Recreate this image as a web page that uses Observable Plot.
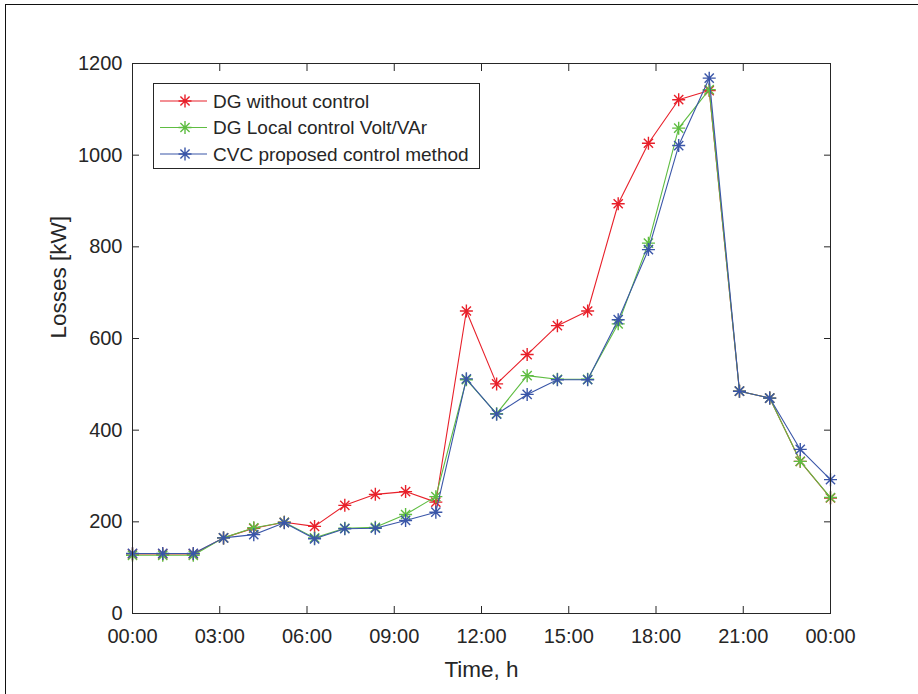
<!DOCTYPE html>
<html>
<head>
<meta charset="utf-8">
<script src="https://cdn.jsdelivr.net/npm/d3@7"></script>
<script src="https://cdn.jsdelivr.net/npm/@observablehq/plot@0.6"></script>
<style>
  html, body { margin: 0; padding: 0; background: #fff; }
  #wrap { position: relative; width: 918px; height: 694px; overflow: hidden; font-family: "Liberation Sans", Arial, sans-serif; }
  #frameL { position: absolute; left: 5px; top: 4px; width: 913px; height: 690px; border-left: 1.5px solid #111; border-top: 1.5px solid #111; box-sizing: border-box; pointer-events: none; }
  #chart { position: absolute; left: 0; top: 0; }
  #legend { position: absolute; left: 153px; top: 83px; }
</style>
</head>
<body>
<div id="wrap">
  <div id="chart"></div>
  <div id="legend"></div>
  <div id="frameL"></div>
</div>
<script>
// Time of each sample, hours (24 samples spread over 00:00 .. 24:00)
const hours = [0, 1.04, 2.09, 3.13, 4.17, 5.22, 6.26, 7.30, 8.35, 9.39, 10.43, 11.48,
               12.52, 13.57, 14.61, 15.65, 16.70, 17.74, 18.78, 19.83, 20.87, 21.91, 22.96, 24];

const noControl = [130, 130, 130, 165, 186, 199, 190, 236, 260, 266, 243, 660,
                   501, 565, 628, 660, 894, 1026, 1121, 1141, 485, 470, 332, 252];
const localControl = [127, 127, 127, 165, 187, 199, 165, 186, 188, 216, 255, 510,
                      436, 519, 511, 511, 632, 808, 1059, 1143, 485, 470, 332, 253];
const cvcControl = [131, 131, 131, 165, 172, 198, 163, 185, 186, 203, 221, 512,
                    435, 478, 510, 510, 641, 794, 1021, 1168, 485, 470, 358, 292];

const seriesNames = ["DG without control", "DG Local control Volt/VAr", "CVC proposed control method"];
const seriesValues = [noControl, localControl, cvcControl];
const seriesColors = ["#e8202a", "#5fbd42", "#3a56a8"];

const xTicks = [0, 3, 6, 9, 12, 15, 18, 21, 24];
const xTickLabels = ["00:00", "03:00", "06:00", "09:00", "12:00", "15:00", "18:00", "21:00", "00:00"];
const yTicks = [0, 200, 400, 600, 800, 1000, 1200];
const yTickLabels = ["0", "200", "400", "600", "800", "1000", "1200"];

const xLabel = "Time, h";
const yLabel = "Losses [kW]";

// table
const rows = [];
seriesNames.forEach((name, s) => {
  seriesValues[s].forEach((v, i) => rows.push({series: name, hour: hours[i], value: v, order: s}));
});

// MATLAB-style 8-arm asterisk
const asterisk8 = {
  draw(ctx, size) {
    const r = Math.sqrt(size / Math.PI);
    const d = r * Math.SQRT1_2;
    ctx.moveTo(-r, 0); ctx.lineTo(r, 0);
    ctx.moveTo(0, -r); ctx.lineTo(0, r);
    ctx.moveTo(-d, -d); ctx.lineTo(d, d);
    ctx.moveTo(-d, d); ctx.lineTo(d, -d);
  }
};

const axisColor = "#262626";
const marks = [];
seriesNames.forEach((name, s) => {
  const data = rows.filter(r => r.series === name);
  marks.push(Plot.line(data, {x: "hour", y: "value", stroke: seriesColors[s], strokeWidth: 1.1}));
  marks.push(Plot.dot(data, {x: "hour", y: "value", symbol: asterisk8, r: 6.5, stroke: seriesColors[s], fill: "none", strokeWidth: 1.4}));
});

const chart = Plot.plot({
  width: 918,
  height: 694,
  marginLeft: 132,
  marginRight: 88,
  marginTop: 63,
  marginBottom: 81,
  style: {fontFamily: "'Liberation Sans', Arial, sans-serif", fontSize: "20px", color: axisColor, background: "transparent"},
  x: {domain: [0, 24]},
  y: {domain: [0, 1200]},
  marks: [
    ...marks,
    Plot.frame({stroke: axisColor, strokeWidth: 1}),
    Plot.axisX({anchor: "bottom", ticks: xTicks, tickSize: 0, tickPadding: 15, tickFormat: (d, i) => xTickLabels[i], label: null}),
    Plot.axisX({anchor: "bottom", ticks: xTicks, tickSize: -7, text: null, label: null, stroke: axisColor}),
    Plot.axisX({anchor: "top", ticks: xTicks, tickSize: -7, text: null, label: null, stroke: axisColor}),
    Plot.axisY({anchor: "left", ticks: yTicks, tickSize: 0, tickPadding: 10, tickFormat: (d, i) => yTickLabels[i], label: null}),
    Plot.axisY({anchor: "left", ticks: yTicks, tickSize: -7, text: null, label: null, stroke: axisColor}),
    Plot.axisY({anchor: "right", ticks: yTicks, tickSize: -7, text: null, label: null, stroke: axisColor}),
    Plot.text([yLabel], {text: d => d, frameAnchor: "left", dx: -74, rotate: -90, fontSize: 22.5, fill: axisColor}),
    Plot.text([xLabel], {text: d => d, frameAnchor: "bottom", dy: 63, fontSize: 22.5, fill: axisColor})
  ]
});
document.getElementById("chart").appendChild(chart);

// Legend (inside plot area, like MATLAB northwest)
const lw = 326, lh = 85;
const lsvg = d3.select("#legend").append("svg").attr("width", lw + 2).attr("height", lh + 2);
lsvg.append("rect").attr("x", 0.5).attr("y", 0.5).attr("width", lw).attr("height", lh)
  .attr("fill", "#fff").attr("stroke", axisColor).attr("stroke-width", 1);
seriesNames.forEach((name, s) => {
  const cy = 18 + s * 26.5;
  lsvg.append("line").attr("x1", 7).attr("x2", 54).attr("y1", cy).attr("y2", cy)
    .attr("stroke", seriesColors[s]).attr("stroke-width", 1.1);
  lsvg.append("path").attr("transform", `translate(32,${cy})`)
    .attr("d", d3.symbol(asterisk8, 6.5 * 6.5 * Math.PI)())
    .attr("stroke", seriesColors[s]).attr("fill", "none").attr("stroke-width", 1.4);
  lsvg.append("text").attr("x", 60).attr("y", cy).attr("dy", "0.35em")
    .attr("font-family", "'Liberation Sans', Arial, sans-serif").attr("font-size", 19)
    .attr("fill", axisColor).text(name);
});
</script>
</body>
</html>
